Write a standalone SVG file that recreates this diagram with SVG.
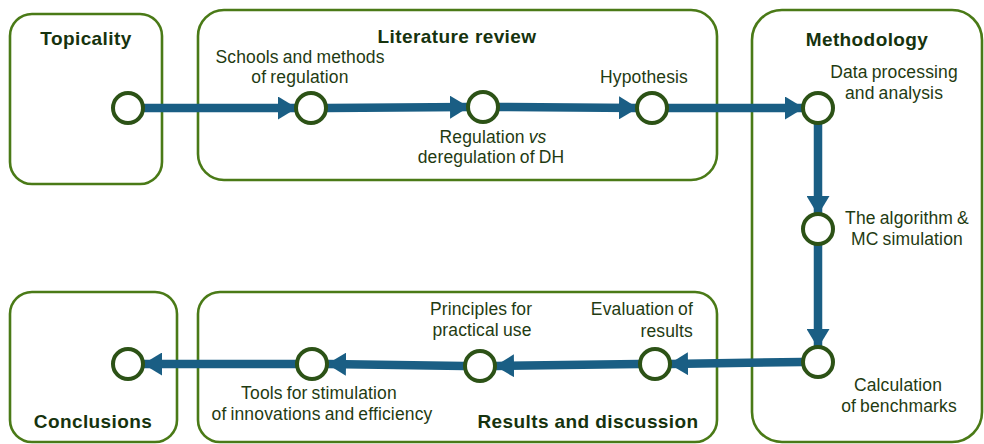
<svg xmlns="http://www.w3.org/2000/svg" width="984" height="444" viewBox="0 0 984 444">
  <style>
    .box { fill: none; stroke: #4a7a17; stroke-width: 2.6; }
    .node { fill: #ffffff; stroke: #2c5216; stroke-width: 4; }
    .flow { stroke: #1a5e84; stroke-width: 8.5; fill: none; }
    .title { font-family: "Liberation Sans", Arial, sans-serif; font-weight: bold; font-size: 19px; letter-spacing: 0.4px; fill: #16330e; }
    .label { font-family: "Liberation Sans", Arial, sans-serif; font-size: 17.5px; letter-spacing: 0.15px; word-spacing: -1px; fill: #1f3b12; }
  </style>
  <defs>
    <marker id="head" viewBox="0 0 19 23" refX="18" refY="11.5" markerWidth="19" markerHeight="23" markerUnits="userSpaceOnUse" orient="auto">
      <path d="M0,0 L19,11.5 L0,23 Z" fill="#1a5e84"/>
    </marker>
  </defs>

  <!-- section frames -->
  <g id="topicality">
    <rect class="box" x="10" y="14" width="152" height="170" rx="22"/>
    <text class="title" x="86" y="45" text-anchor="middle">Topicality</text>
  </g>
  <g id="literature-review">
    <rect class="box" x="198" y="10" width="519" height="170" rx="26"/>
    <text class="title" x="457" y="43" text-anchor="middle">Literature review</text>
  </g>
  <g id="methodology">
    <rect class="box" x="752" y="10" width="230" height="432" rx="30"/>
    <text class="title" x="867" y="46" text-anchor="middle">Methodology</text>
  </g>
  <g id="results-and-discussion">
    <rect class="box" x="198" y="292" width="519" height="150" rx="22"/>
    <text class="title" x="588" y="428" text-anchor="middle">Results and discussion</text>
  </g>
  <g id="conclusions">
    <rect class="box" x="10" y="292" width="167" height="150" rx="22"/>
    <text class="title" x="93" y="428" text-anchor="middle">Conclusions</text>
  </g>

  <!-- connectors -->
  <g id="connectors">
    <line class="flow" x1="144" y1="108" x2="296" y2="108" marker-end="url(#head)"/>
    <line class="flow" x1="327" y1="108" x2="468" y2="107" marker-end="url(#head)"/>
    <line class="flow" x1="499" y1="107" x2="637" y2="108" marker-end="url(#head)"/>
    <line class="flow" x1="668" y1="108" x2="803" y2="108" marker-end="url(#head)"/>
    <line class="flow" x1="818" y1="124" x2="818" y2="214" marker-end="url(#head)"/>
    <line class="flow" x1="818" y1="245" x2="818" y2="347" marker-end="url(#head)"/>
    <line class="flow" x1="802" y1="362" x2="670" y2="364" marker-end="url(#head)"/>
    <line class="flow" x1="639" y1="364" x2="496" y2="366" marker-end="url(#head)"/>
    <line class="flow" x1="464" y1="366" x2="328" y2="364" marker-end="url(#head)"/>
    <line class="flow" x1="296" y1="364" x2="144" y2="364" marker-end="url(#head)"/>
  </g>

  <!-- milestones -->
  <g id="n-start">
    <circle class="node" cx="128" cy="108" r="15"/>
  </g>
  <g id="n-schools">
    <circle class="node" cx="311" cy="108" r="15"/>
    <text class="label" x="300" y="63" text-anchor="middle">Schools and methods</text>
    <text class="label" x="300" y="83" text-anchor="middle">of regulation</text>
  </g>
  <g id="n-regulation">
    <circle class="node" cx="483" cy="107" r="15"/>
    <text class="label" x="493" y="143" text-anchor="middle">Regulation <tspan font-style="italic">vs</tspan></text>
    <text class="label" x="491" y="163" text-anchor="middle">deregulation of DH</text>
  </g>
  <g id="n-hypothesis">
    <circle class="node" cx="652" cy="108" r="15"/>
    <text class="label" x="644" y="83" text-anchor="middle">Hypothesis</text>
  </g>
  <g id="n-data">
    <circle class="node" cx="818" cy="108" r="15"/>
    <text class="label" x="894" y="78" text-anchor="middle">Data processing</text>
    <text class="label" x="894" y="99" text-anchor="middle">and analysis</text>
  </g>
  <g id="n-algorithm">
    <circle class="node" cx="818" cy="229" r="15"/>
    <text class="label" x="907" y="224" text-anchor="middle">The algorithm &amp;</text>
    <text class="label" x="907" y="245" text-anchor="middle">MC simulation</text>
  </g>
  <g id="n-calculation">
    <circle class="node" cx="818" cy="362" r="15"/>
    <text class="label" x="898" y="391" text-anchor="middle">Calculation</text>
    <text class="label" x="899" y="412" text-anchor="middle">of benchmarks</text>
  </g>
  <g id="n-evaluation">
    <circle class="node" cx="655" cy="364" r="15"/>
    <text class="label" x="693" y="315" text-anchor="end">Evaluation of</text>
    <text class="label" x="693" y="337" text-anchor="end">results</text>
  </g>
  <g id="n-principles">
    <circle class="node" cx="480" cy="366" r="15"/>
    <text class="label" x="481" y="315" text-anchor="middle">Principles for</text>
    <text class="label" x="482" y="336" text-anchor="middle">practical use</text>
  </g>
  <g id="n-tools">
    <circle class="node" cx="312" cy="364" r="15"/>
    <text class="label" x="319" y="399" text-anchor="middle">Tools for stimulation</text>
    <text class="label" x="322" y="420" text-anchor="middle">of innovations and efficiency</text>
  </g>
  <g id="n-end">
    <circle class="node" cx="128" cy="364" r="15"/>
  </g>
</svg>
